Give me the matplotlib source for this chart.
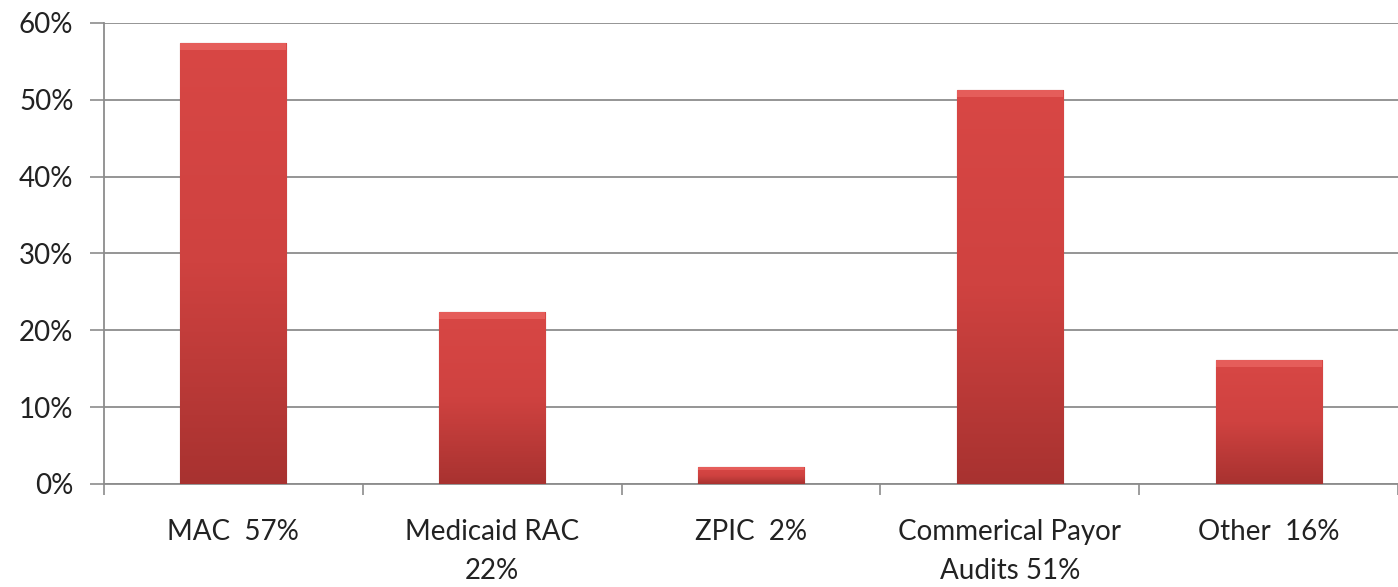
import matplotlib
matplotlib.use("Agg")
import matplotlib.pyplot as plt
import numpy as np
from matplotlib.colors import LinearSegmentedColormap

categories = ["MAC  57%", "Medicaid RAC\n22%", "ZPIC  2%", "Commerical Payor\nAudits 51%", "Other  16%"]
values = [57.4, 22.4, 2.2, 51.3, 16.1]
yticks = [0, 10, 20, 30, 40, 50, 60]

plt.rcParams['font.family'] = ['Lato', 'DejaVu Sans']

fig = plt.figure(figsize=(13.98, 5.87), dpi=100)
ax = fig.add_axes([0.0744, 0.1755, 0.9256, 0.7855])

x = np.arange(len(categories))
bars = ax.bar(x, values, width=0.41, color="#c93c3a", zorder=3,
              edgecolor="#8a2424", linewidth=0.8)

# gradient fill inside each bar, lighter on top
cmap = LinearSegmentedColormap.from_list("redgrad", ["#a83230", "#cf4240", "#d84745"])
grad = np.linspace(0, 1, 256).reshape(-1, 1)
for b in bars:
    x0, y0 = b.get_x(), b.get_y()
    w, h = b.get_width(), b.get_height()
    im = ax.imshow(grad, cmap=cmap, origin="lower", aspect="auto",
                   extent=[x0, x0 + w, y0, y0 + h], zorder=3.5)
    im.set_clip_path(b)
    # light bevel on top
    cap = min(h * 0.2, 0.9)
    ax.fill_between([x0, x0 + w], y0 + h - cap, y0 + h, color="#f06e6a",
                    alpha=0.6, zorder=4, linewidth=0)

ax.set_xlim(-0.5, len(categories) - 0.5)
ax.set_ylim(0, 60)
ax.set_yticks(yticks)
ax.set_yticklabels([f"{v}%" for v in yticks], fontsize=20, color="#222222")
ax.yaxis.grid(True, color="#8c8c8c", linewidth=1.3, zorder=0)
ax.set_axisbelow(True)

ax.set_xticks(x)
ax.set_xticklabels(categories, fontsize=20, color="#222222", linespacing=1.65)
ax.tick_params(axis="x", which="major", length=0, pad=25)
ax.set_xticks(np.arange(-0.5, len(categories), 1.0), minor=True)
ax.tick_params(axis="x", which="minor", length=8, width=1.2, color="#8c8c8c", direction="out")
ax.tick_params(axis="y", length=10, width=1.2, color="#8c8c8c", pad=12)

for s in ["top", "right"]:
    ax.spines[s].set_visible(False)
ax.spines["left"].set_color("#8c8c8c")
ax.spines["left"].set_linewidth(1.3)
ax.spines["bottom"].set_color("#8c8c8c")
ax.spines["bottom"].set_linewidth(1.3)

fig.savefig("out.png", dpi=100)
